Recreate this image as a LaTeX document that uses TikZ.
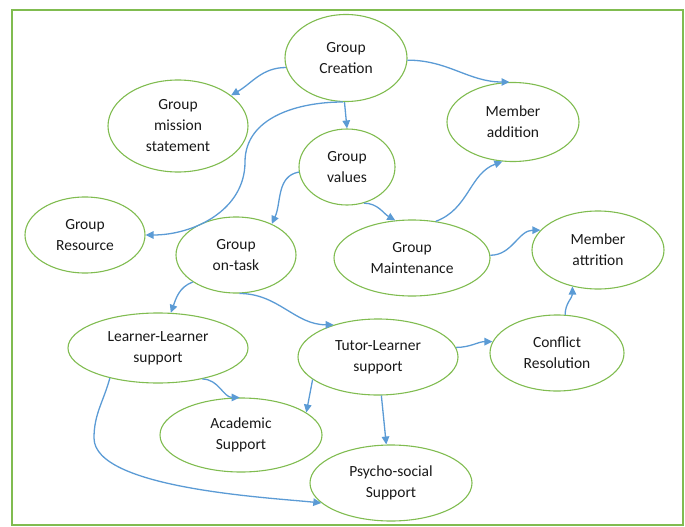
\documentclass[tikz,border=0pt]{standalone}
\usepackage{fontspec}
\setmainfont{Carlito}
\usetikzlibrary{shapes.geometric,arrows.meta}
\definecolor{egreen}{RGB}{128,188,80}
\definecolor{ablue}{RGB}{91,155,213}
\begin{document}
\begin{tikzpicture}[x=1pt,y=1pt,
  bub/.style={ellipse, draw=egreen, line width=1.1pt, inner sep=0pt, align=center,
    font=\fontsize{15.5}{21}\selectfont, text=black!90},
  conn/.style={draw=ablue, line width=1.3pt, -{Triangle[length=8pt,width=7.5pt]}}]
\useasboundingbox (0,0) rectangle (685,-527);
\draw[egreen, line width=1.1pt] (12,-10) rectangle (683,-525);

\node[bub, minimum width=122pt, minimum height=87pt] (gc) at (346,-58) {Group\\Creation};
\node[bub, minimum width=140pt, minimum height=92pt] (gm) at (178,-126) {Group\\mission\\statement};
\node[bub, minimum width=132pt, minimum height=79pt] (ma) at (513,-122) {Member\\addition};
\node[bub, minimum width=96pt, minimum height=76pt] (gv) at (347,-167) {Group\\values};
\node[bub, minimum width=120pt, minimum height=76pt] (gr) at (85,-235) {Group\\Resource};
\node[bub, minimum width=120pt, minimum height=76pt] (got) at (236,-255) {Group\\on-task};
\node[bub, minimum width=156pt, minimum height=76pt] (gmt) at (412,-258) {Group\\Maintenance};
\node[bub, minimum width=132pt, minimum height=78pt] (mat) at (598,-250) {Member\\attrition};
\node[bub, minimum width=180pt, minimum height=70pt] (ll) at (158,-348) {Learner-Learner\\support};
\node[bub, minimum width=160pt, minimum height=76pt] (tl) at (378,-357) {Tutor-Learner\\support};
\node[bub, minimum width=134pt, minimum height=76pt] (cr) at (557,-353) {Conflict\\Resolution};
\node[bub, minimum width=162pt, minimum height=74pt] (as) at (241,-435) {Academic\\Support};
\node[bub, minimum width=162pt, minimum height=76pt] (ps) at (391,-483) {Psycho-social\\Support};

\coordinate (m1) at (245,-162);
\coordinate (m2) at (94,-438);

\draw[conn] (gc.189) to[out=180,in=30] (gm.30);
\draw[conn] (gc.-2) to[out=0,in=180] (ma.95);
\draw[conn] (gc.268) -- (gv.north);
\draw[conn] (gc.266) to[out=180,in=90] (m1) to[out=270,in=0] (gr.east);
\draw[conn] (gv.186) to[out=190,in=65] (got.41);
\draw[conn] (gv.295) to[out=0,in=150] (gmt.114);
\draw[conn] (gmt.57) to[out=20,in=200] (ma.255);
\draw[conn] (gmt.2) to[out=0,in=180] (mat.161);
\draw[conn] (got.212) to[out=200,in=70] (ll.70);
\draw[conn] (got.275) to[out=0,in=180] (tl.144);
\draw[conn] (tl.7) to[out=0,in=180] (cr.170);
\draw[conn] (cr.78) to[out=90,in=270] (mat.235);
\draw[conn] (tl.199) -- (as.19);
\draw[conn] (tl.275) -- (ps.97);
\draw[conn] (ll.-35) to[out=0,in=180] (as.92);
\draw[conn] (ll.212) to[out=255,in=90] (m2) to[out=270,in=174,looseness=0.55] (ps.196);
\end{tikzpicture}
\end{document}
